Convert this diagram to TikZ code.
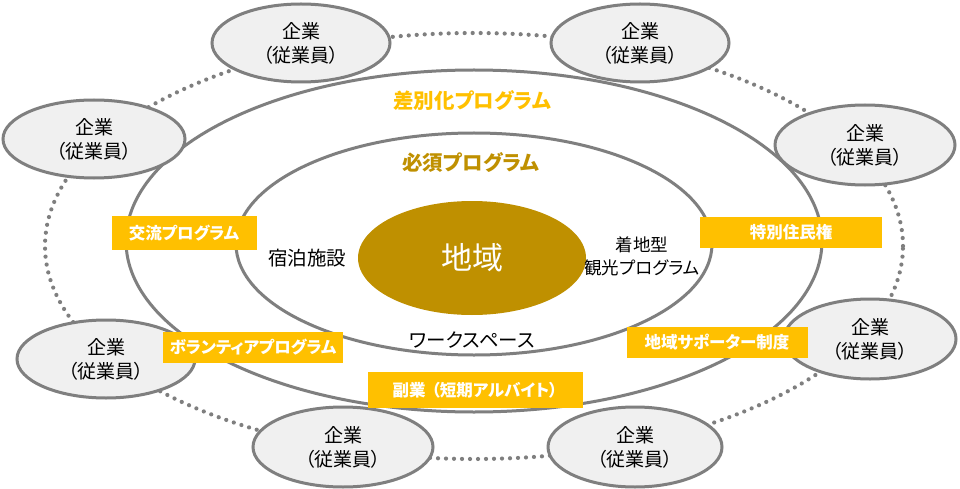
\documentclass[tikz,border=0pt]{standalone}
\usepackage{fontspec}
\setmainfont{Noto Sans CJK JP}[RawFeature=+palt]
\usetikzlibrary{shapes.geometric}
\definecolor{ringgray}{HTML}{7F7F7F}
\definecolor{compfill}{HTML}{F0F0F0}
\definecolor{amber}{HTML}{FFC000}
\definecolor{darkgold}{HTML}{BF9000}
\definecolor{txt}{HTML}{000000}
\tikzset{
  ring/.style={ellipse, draw=ringgray, line width=3pt, inner sep=0pt},
  company/.style={ellipse, draw=ringgray, line width=3pt, fill=compfill, inner sep=0pt,
    minimum width=178pt, minimum height=78pt, align=center, text=txt,
    font=\fontsize{19}{24}\selectfont},
  tag/.style={rectangle, fill=amber, text=white, inner sep=0pt,
    font=\fontsize{16.5}{18}\selectfont\bfseries},
  plain/.style={text=txt, inner sep=0pt, align=center, font=\fontsize{19.5}{24}\selectfont},
}
\begin{document}
\begin{tikzpicture}[x=1pt,y=-1pt]
\useasboundingbox (0,0) rectangle (960,489);
\fill[white] (0,0) rectangle (960,489);
% outer dotted ring
\node[ellipse, draw=ringgray, line width=4.2pt, dash pattern=on 0pt off 8pt, line cap=round,
  minimum width=858pt, minimum height=426pt, inner sep=0pt] (outer) at (474,246) {};
% rings
\node[ring, minimum width=696pt, minimum height=342pt] (diff) at (474,241) {};
\node[ring, minimum width=476pt, minimum height=222pt] (must) at (474,244) {};
\node[ellipse, fill=darkgold, minimum width=228pt, minimum height=114pt, inner sep=0pt,
  text=white, font=\fontsize{31}{33}\selectfont] (region) at (472,258) {地域};
% companies
\node[company] (c1) at (301,43) {企業\\（従業員）};
\node[company] (c2) at (640,43) {企業\\（従業員）};
\node[company, minimum width=182pt] (c3) at (94,139) {企業\\（従業員）};
\node[company, minimum width=180pt, minimum height=80pt] (c4) at (865,145) {企業\\（従業員）};
\node[company] (c5) at (106,359) {企業\\（従業員）};
\node[company, minimum width=172pt, minimum height=80pt] (c6) at (870,339) {企業\\（従業員）};
\node[company, minimum width=180pt, minimum height=80pt] (c7) at (343,447) {企業\\（従業員）};
\node[company, minimum width=174pt, minimum height=80pt] (c8) at (635,447) {企業\\（従業員）};
% ring titles
\node[text=amber, inner sep=0pt, font=\fontsize{20.5}{22}\selectfont\bfseries] (tdiff) at (472,101) {差別化プログラム};
\node[text=darkgold, inner sep=0pt, font=\fontsize{20.5}{22}\selectfont\bfseries] (tmust) at (471,163) {必須プログラム};
% inner labels
\node[plain] (stay) at (307,258) {宿泊施設};
\node[plain, font=\fontsize{17.5}{23}\selectfont] (tour) at (642,256) {着地型\\観光プログラム};
\node[plain] (work) at (472,340) {ワークスペース};
% tags
\node[tag, minimum width=145pt, minimum height=34pt] (t1) at (184,233) {交流プログラム};
\node[tag, minimum width=182pt, minimum height=31pt] (t2) at (791,232) {特別住民権};
\node[tag, minimum width=180pt, minimum height=31pt] (t3) at (253,347) {ボランティアプログラム};
\node[tag, minimum width=215pt, minimum height=36pt] (t4) at (475,390) {副業\hspace{6pt}（短期アルバイト）};
\node[tag, minimum width=181pt, minimum height=31pt] (t5) at (717,342) {地域サポーター制度};
\end{tikzpicture}
\end{document}
